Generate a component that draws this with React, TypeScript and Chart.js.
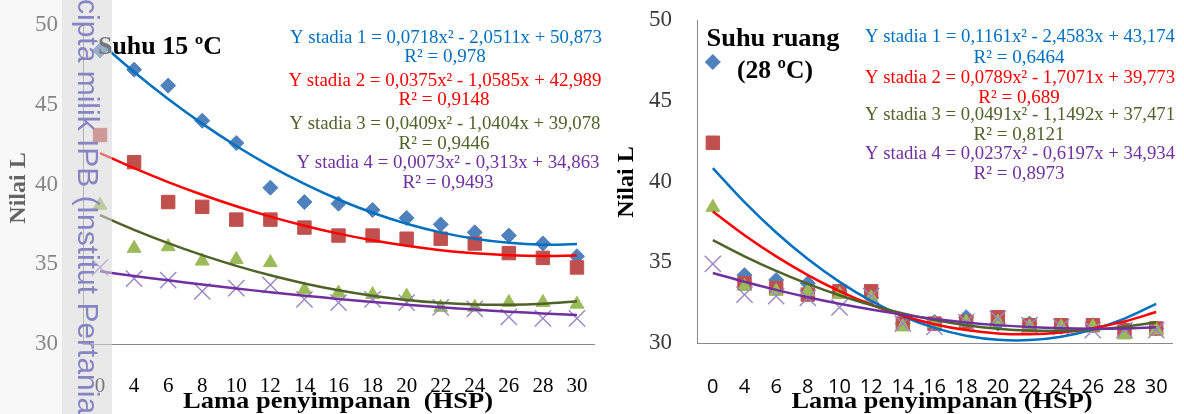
import React, { useEffect, useRef } from "react";
import { Chart, registerables } from "chart.js";
Chart.register(...registerables);

// ---------- data ----------
const categories = ["0", "4", "6", "8", "10", "12", "14", "16", "18", "20", "22", "24", "26", "28", "30"];
const yMin = 30;
const yMax = 50;
const yStep = 5;

// Suhu 15 °C : observed values
const coolStadia1 = [48.4, 47.2, 46.2, 44.0, 42.6, 39.8, 38.9, 38.8, 38.4, 37.9, 37.5, 37.0, 36.8, 36.3, 35.5];
const coolStadia2 = [43.1, 41.4, 38.9, 38.6, 37.8, 37.8, 37.3, 36.8, 36.8, 36.6, 36.6, 36.3, 35.7, 35.4, 34.8];
const coolStadia3 = [38.7, 36.0, 36.1, 35.2, 35.3, 35.1, 33.4, 33.2, 33.1, 33.0, 32.3, 32.3, 32.6, 32.6, 32.5];
const coolStadia4 = [34.8, 34.1, 34.0, 33.3, 33.5, 33.7, 32.8, 32.6, 32.8, 32.6, 32.3, 32.2, 31.7, 31.6, 31.6];
// Suhu 15 °C : trend lines (values of the printed polynomial trendlines)
const coolTrend1 = [48.894, 47.058, 45.366, 43.817, 42.413, 41.151, 40.034, 39.060, 38.229, 37.542, 36.999, 36.599, 36.343, 36.230, 36.262];
const coolTrend2 = [41.968, 41.022, 40.151, 39.355, 38.634, 37.988, 37.417, 36.921, 36.500, 36.154, 35.883, 35.687, 35.566, 35.520, 35.549];
const coolTrend3 = [38.079, 37.161, 36.325, 35.571, 34.899, 34.308, 33.799, 33.372, 33.027, 32.764, 32.582, 32.483, 32.465, 32.529, 32.675];
const coolTrend4 = [34.557, 34.266, 33.990, 33.728, 33.481, 33.248, 33.030, 32.826, 32.637, 32.463, 32.303, 32.158, 32.028, 31.912, 31.811];

// Suhu ruang (28 °C) : observed values
const roomStadia1 = [47.4, 34.2, 33.9, 33.7, 33.2, 32.8, 31.2, 31.3, 31.6, 31.2, 31.2, 31.0, 31.1, 30.9, 30.9];
const roomStadia2 = [42.4, 33.7, 33.4, 33.0, 33.2, 33.2, 31.2, 31.2, 31.3, 31.6, 31.1, 31.1, 31.1, 30.8, 30.9];
const roomStadia3 = [38.4, 33.5, 33.2, 33.2, 33.0, 32.8, 31.0, 31.2, 31.3, 31.3, 31.0, 31.0, 31.0, 30.5, 30.8];
const roomStadia4 = [34.9, 33.0, 32.9, 32.8, 32.2, 32.9, 31.2, 31.0, 31.3, 31.5, 31.1, 31.0, 30.8, 30.8, 30.8];
// Suhu ruang : trend lines
const roomTrend1 = [40.832, 38.722, 36.844, 35.198, 33.785, 32.604, 31.655, 30.938, 30.453, 30.201, 30.181, 30.393, 30.837, 31.513, 32.422];
const roomTrend2 = [38.145, 36.674, 35.362, 34.207, 33.210, 32.371, 31.689, 31.166, 30.800, 30.592, 30.542, 30.649, 30.915, 31.338, 31.919];
const roomTrend3 = [36.371, 35.369, 34.465, 33.660, 32.953, 32.343, 31.833, 31.420, 31.105, 30.889, 30.771, 30.751, 30.829, 31.006, 31.281];
const roomTrend4 = [34.338, 33.789, 33.288, 32.834, 32.428, 32.069, 31.757, 31.493, 31.276, 31.107, 30.985, 30.910, 30.883, 30.903, 30.971];

// texts
const coolEquations = [
  "Y stadia 1 = 0,0718x² - 2,0511x + 50,873",
  "Y stadia 2 = 0,0375x² - 1,0585x + 42,989",
  "Y stadia 3 = 0,0409x² - 1,0404x + 39,078",
  "Y stadia 4 = 0,0073x² - 0,313x + 34,863",
];
const coolR2 = ["R² = 0,978", "R² = 0,9148", "R² = 0,9446", "R² = 0,9493"];
const roomEquations = [
  "Y stadia 1 = 0,1161x² - 2,4583x + 43,174",
  "Y stadia 2 = 0,0789x² - 1,7071x + 39,773",
  "Y stadia 3 = 0,0491x² - 1,1492x + 37,471",
  "Y stadia 4 = 0,0237x² - 0,6197x + 34,934",
];
const roomR2 = ["R² = 0,6464", "R² = 0,689", "R² = 0,8121", "R² = 0,8973"];
const coolTitle = "Suhu 15 ºC";
const roomTitle1 = "Suhu ruang";
const roomTitle2 = "(28 ºC)";
const yTitle = "Nilai L";
const coolXTitle = "Lama penyimpanan  (HSP)";
const roomXTitle = "Lama penyimpanan (HSP)";
const watermark = "cipta milik IPB (Institut Pertanian Bogor)";

// ---------- styles ----------
const trendColors = ["#0070C0", "#FF0000", "#4F6228", "#7030A0"];
const markerColors = ["#4F81BD", "#C0504D", "#9BBB59", "#9a86c4"];
const SERIF = "'Liberation Serif', 'Times New Roman', serif";

function drawLabel(
  ctx: CanvasRenderingContext2D,
  text: string,
  x: number,
  y: number,
  font: string,
  color: string,
  width = 0,
  baseline: CanvasTextBaseline = "middle",
  rotate = 0
) {
  ctx.save();
  ctx.font = font;
  ctx.fillStyle = color;
  ctx.textAlign = "center";
  ctx.textBaseline = baseline;
  ctx.translate(x, y);
  if (rotate) ctx.rotate(rotate);
  if (width > 0) {
    const m = ctx.measureText(text).width;
    if (m > 0) ctx.scale(width / m, 1);
  }
  ctx.fillText(text, 0, 0);
  ctx.restore();
}

type Side = "cool" | "room";

function zeroPad(s: any) {
  s.paddingLeft = 0;
  s.paddingRight = 0;
  s.paddingTop = 0;
  s.paddingBottom = 0;
}

function buildConfig(side: Side): any {
  const obs = side === "cool"
    ? [coolStadia1, coolStadia2, coolStadia3, coolStadia4]
    : [roomStadia1, roomStadia2, roomStadia3, roomStadia4];
  const trends = side === "cool"
    ? [coolTrend1, coolTrend2, coolTrend3, coolTrend4]
    : [roomTrend1, roomTrend2, roomTrend3, roomTrend4];
  const styles = ["rectRot", "rect", "triangle", "crossRot"];
  const radii = [7.5, 9.5, 8, 11.5];

  const datasets: any[] = [];
  for (let i = 0; i < 4; i++) {
    datasets.push({
      label: "trend " + (i + 1),
      data: trends[i],
      borderColor: trendColors[i],
      backgroundColor: trendColors[i],
      borderWidth: 2.5,
      pointRadius: 0,
      tension: 0.4,
      fill: false,
      clip: 20,
      order: 3 - i,
    });
  }
  for (let i = 0; i < 4; i++) {
    datasets.push({
      label: "stadia " + (i + 1),
      data: obs[i],
      showLine: false,
      pointStyle: styles[i],
      pointRadius: radii[i],
      backgroundColor: markerColors[i],
      borderColor: markerColors[i],
      pointBorderWidth: i === 3 ? 1.4 : 1,
      clip: 20,
      order: 7 - i,
    });
  }

  const isCool = side === "cool";
  const annot = {
    id: "annot-" + side,
    afterDraw(chart: any) {
      const ctx: CanvasRenderingContext2D = chart.ctx;
      if (isCool) {
        const eqY = [38, 81, 124, 163];
        const r2Y = [57, 100, 144, 183];
        const eqX = [446, 445, 445, 448];
        const eqW = [312, 313, 311, 303];
        const r2X = [445, 444, 444, 448];
        for (let i = 0; i < 4; i++) {
          drawLabel(ctx, coolEquations[i], eqX[i], eqY[i], "19px " + SERIF, trendColors[i], eqW[i]);
          drawLabel(ctx, coolR2[i], r2X[i], r2Y[i], "19px " + SERIF, trendColors[i]);
        }
        drawLabel(ctx, coolTitle, 160, 48, "bold 25px " + SERIF, "#000", 124);
        drawLabel(ctx, yTitle, 19, 188, "bold 24px " + SERIF, "#000", 0, "middle", -Math.PI / 2);
        drawLabel(ctx, coolXTitle, 338, 408, "bold 24px " + SERIF, "#000", 310, "alphabetic");
      } else {
        const eqY = [37, 78, 115, 154];
        const r2Y = [58, 98, 135, 174];
        for (let i = 0; i < 4; i++) {
          drawLabel(ctx, roomEquations[i], 420, eqY[i], "19px " + SERIF, trendColors[i], 310);
          drawLabel(ctx, roomR2[i], 419, r2Y[i], "19px " + SERIF, trendColors[i]);
        }
        drawLabel(ctx, roomTitle1, 173, 39, "bold 26px " + SERIF, "#000", 133);
        drawLabel(ctx, roomTitle2, 175, 71, "bold 26px " + SERIF, "#000", 76);
        drawLabel(ctx, yTitle, 27, 182, "bold 24px " + SERIF, "#000", 0, "middle", -Math.PI / 2);
        drawLabel(ctx, roomXTitle, 342, 408, "bold 24px " + SERIF, "#000", 301, "alphabetic");
      }
    },
  };

  const yWidth = isCool ? 83 : 97;
  const xHeight = isCool ? 70 : 71;

  return {
    type: "line",
    data: { labels: categories, datasets },
    options: {
      responsive: false,
      animation: false,
      events: [],
      layout: {
        autoPadding: false,
        padding: isCool
          ? { left: 0, top: 25, right: 16, bottom: 0 }
          : { left: 0, top: 20, right: 12, bottom: 0 },
      },
      plugins: { legend: { display: false }, tooltip: { enabled: false }, title: { display: false } },
      scales: {
        x: {
          type: "category",
          offset: true,
          grid: { display: false, drawTicks: false },
          border: { display: true, color: "#8a8a8a", width: 1 },
          ticks: {
            autoSkip: false,
            maxRotation: 0,
            minRotation: 0,
            padding: isCool ? 30 : 32,
            color: "#000",
            font: isCool
              ? { family: SERIF, size: 21 }
              : { family: "'Open Sans', sans-serif", size: 20 },
          },
          afterFit: (s: any) => {
            s.height = xHeight;
            zeroPad(s);
          },
        },
        y: {
          min: yMin,
          max: yMax,
          grid: { display: false, drawTicks: false },
          border: { display: true, color: "#8a8a8a", width: 1 },
          ticks: {
            stepSize: yStep,
            padding: 25,
            color: "#3a3a3a",
            font: { family: SERIF, size: 23 },
          },
          afterFit: (s: any) => {
            s.width = yWidth;
            zeroPad(s);
          },
        },
      },
    },
    plugins: [annot],
  };
}

function ChartCanvas({ side, left, width }: { side: Side; left: number; width: number }) {
  const ref = useRef<HTMLCanvasElement>(null);
  useEffect(() => {
    if (!ref.current) return;
    const chart = new Chart(ref.current, buildConfig(side));
    return () => chart.destroy();
  }, [side]);
  return (
    <canvas
      ref={ref}
      width={width}
      height={414}
      style={{ position: "absolute", left, top: 0, width, height: 414, display: "block" }}
    />
  );
}

export default function App() {
  return (
    <div
      style={{
        position: "fixed",
        left: 0,
        top: 0,
        width: 1184,
        height: 414,
        background: "#ffffff",
        overflow: "hidden",
      }}
    >
      <ChartCanvas side="cool" left={0} width={610} />
      <ChartCanvas side="room" left={600} width={584} />
      <div
        style={{
          position: "absolute",
          left: 0,
          top: 0,
          width: 62,
          height: 414,
          background: "rgba(238,238,238,0.42)",
        }}
      />
      <div
        style={{
          position: "absolute",
          left: 62,
          top: 0,
          width: 50,
          height: 414,
          background: "rgba(215,215,215,0.55)",
        }}
      />
      <div
        style={{
          position: "absolute",
          left: 103,
          top: -1,
          transformOrigin: "left top",
          transform: "rotate(90deg)",
          whiteSpace: "nowrap",
          fontFamily: "'Liberation Sans', Arial, sans-serif",
          fontSize: 30,
          lineHeight: "30px",
          color: "#8784c3",
        }}
      >
        {watermark}
      </div>
    </div>
  );
}
